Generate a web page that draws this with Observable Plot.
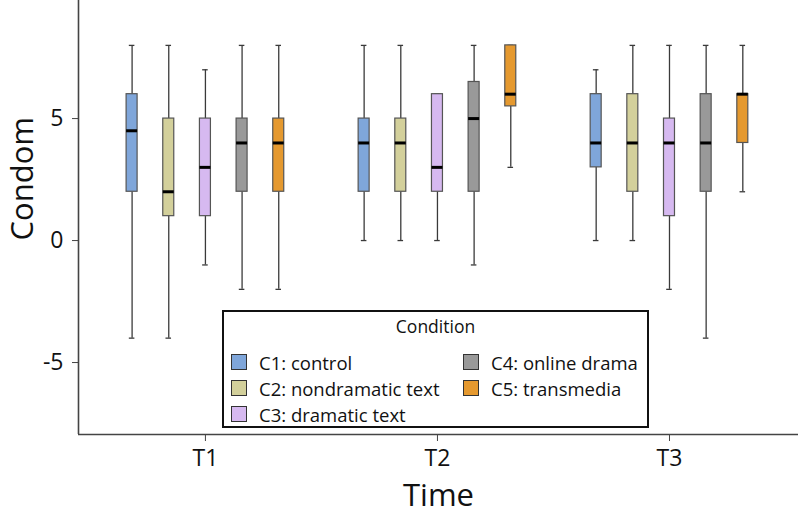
<!DOCTYPE html>
<html>
<head>
<meta charset="utf-8">
<script src="https://cdn.jsdelivr.net/npm/d3@7"></script>
<script src="https://cdn.jsdelivr.net/npm/@observablehq/plot@0.6"></script>
<style>
  html, body { margin: 0; padding: 0; background: white; }
  #wrap { position: relative; width: 801px; height: 525px; font-family: 'Open Sans', sans-serif; color: #111; }
  #legend { position: absolute; left: 222px; top: 310px; width: 427px; height: 118px; box-sizing: border-box; border: 2px solid #111; background: white; }
  #legend .title { position: absolute; left: 0; right: 0; top: 2px; text-align: center; font-size: 17.5px; line-height: 24px; }
  #legend .item { position: absolute; display: flex; align-items: center; font-size: 18.5px; white-space: nowrap; }
  #legend .sw { width: 14px; height: 14px; border: 1.5px solid #333; margin-right: 12px; }
</style>
</head>
<body>
<div id="wrap"></div>
<script>
// ---- data ----
const times = ["T1", "T2", "T3"];
const conditions = ["C1: control", "C2: nondramatic text", "C3: dramatic text", "C4: online drama", "C5: transmedia"];
const colors = ["#7FA6DA", "#D3D09B", "#D6B9F0", "#999999", "#E5992F"];
// values listed time-major: T1 (C1..C5), T2 (C1..C5), T3 (C1..C5)
const minVals    = [-4, -4, -1, -2, -2,   0, 0, 0, -1, 3,     0, 0, -2, -4, 2];
const q1Vals     = [ 2,  1,  1,  2,  2,   2, 2, 2,  2, 5.5,   3, 2,  1,  2, 4];
const medianVals = [4.5, 2,  3,  4,  4,   4, 4, 3,  5, 6,     4, 4,  4,  4, 6];
const q3Vals     = [ 6,  5,  5,  5,  5,   5, 5, 6, 6.5, 8,    6, 6,  5,  6, 6];
const maxVals    = [ 8,  8,  7,  8,  8,   8, 8, 6,  8, 8,     7, 8,  8,  8, 8];
const yTicks = [-5, 0, 5];

// ---- layout ----
const xDomain = [0.453, 3.556];
const yDomain = [-7.95, 9.84];
const condStep = 0.158;
const boxHalf = 0.0237;
const capHalf = 0.012;

const rows = times.flatMap((t, ti) => conditions.map((c, ci) => {
  const k = ti * conditions.length + ci;
  return { t, c, ci, pos: ti + 1 + (ci - 2) * condStep,
    min: minVals[k], q1: q1Vals[k], median: medianVals[k], q3: q3Vals[k], max: maxVals[k] };
}));

const whisk = { stroke: "#3a3a3a", strokeWidth: 1.3 };

const chart = Plot.plot({
  width: 801, height: 525,
  marginLeft: 78, marginRight: 3, marginTop: 0, marginBottom: 91,
  style: { fontFamily: "'Open Sans', sans-serif", fontSize: "23px", color: "#111", background: "white" },
  x: { domain: xDomain },
  y: { domain: yDomain },
  color: { domain: conditions, range: colors },
  marks: [
    Plot.ruleX([xDomain[0]], { stroke: "#444", strokeWidth: 1.6 }),
    Plot.ruleY([yDomain[0]], { stroke: "#444", strokeWidth: 1.6 }),
    Plot.axisY({ ticks: yTicks, tickSize: 6, tickPadding: 9, tickFormat: d => String(d), label: null, stroke: "#444" }),
    Plot.axisX({ ticks: [1, 2, 3], tickSize: 7, tickPadding: 8, tickFormat: i => times[i - 1], label: null, stroke: "#444" }),
    Plot.ruleX(rows, { x: "pos", y1: "min", y2: "q1", ...whisk }),
    Plot.ruleX(rows, { x: "pos", y1: "q3", y2: "max", ...whisk }),
    Plot.ruleY(rows, { y: "min", x1: d => d.pos - capHalf, x2: d => d.pos + capHalf, ...whisk }),
    Plot.ruleY(rows, { y: "max", x1: d => d.pos - capHalf, x2: d => d.pos + capHalf, ...whisk }),
    Plot.rect(rows, { x1: d => d.pos - boxHalf, x2: d => d.pos + boxHalf, y1: "q1", y2: "q3", fill: "c", stroke: "#555", strokeWidth: 1.2 }),
    Plot.ruleY(rows, { y: "median", x1: d => d.pos - boxHalf, x2: d => d.pos + boxHalf, stroke: "black", strokeWidth: 3 }),
    Plot.text(["Condom"], { text: d => d, frameAnchor: "left", dx: -55, dy: 23, rotate: -90, fontSize: 31, fill: "#111" }),
    Plot.text(["Time"], { text: d => d, frameAnchor: "bottom", dy: 71, fontSize: 31, fill: "#111" })
  ]
});

const wrap = document.getElementById("wrap");
wrap.appendChild(chart);

// legend (HTML overlay)
const legend = document.createElement("div");
legend.id = "legend";
const title = document.createElement("div");
title.className = "title";
title.textContent = "Condition";
legend.appendChild(title);
const colX = [7, 239];
const rowY = [50, 76, 102];
conditions.forEach((c, i) => {
  const col = i < 3 ? 0 : 1;
  const row = i < 3 ? i : i - 3;
  const item = document.createElement("div");
  item.className = "item";
  item.style.left = colX[col] + "px";
  item.style.top = (rowY[row] - 12) + "px";
  item.style.height = "24px";
  const sw = document.createElement("span");
  sw.className = "sw";
  sw.style.background = colors[i];
  const tx = document.createElement("span");
  tx.textContent = c;
  item.appendChild(sw);
  item.appendChild(tx);
  legend.appendChild(item);
});
wrap.appendChild(legend);
</script>
</body>
</html>
